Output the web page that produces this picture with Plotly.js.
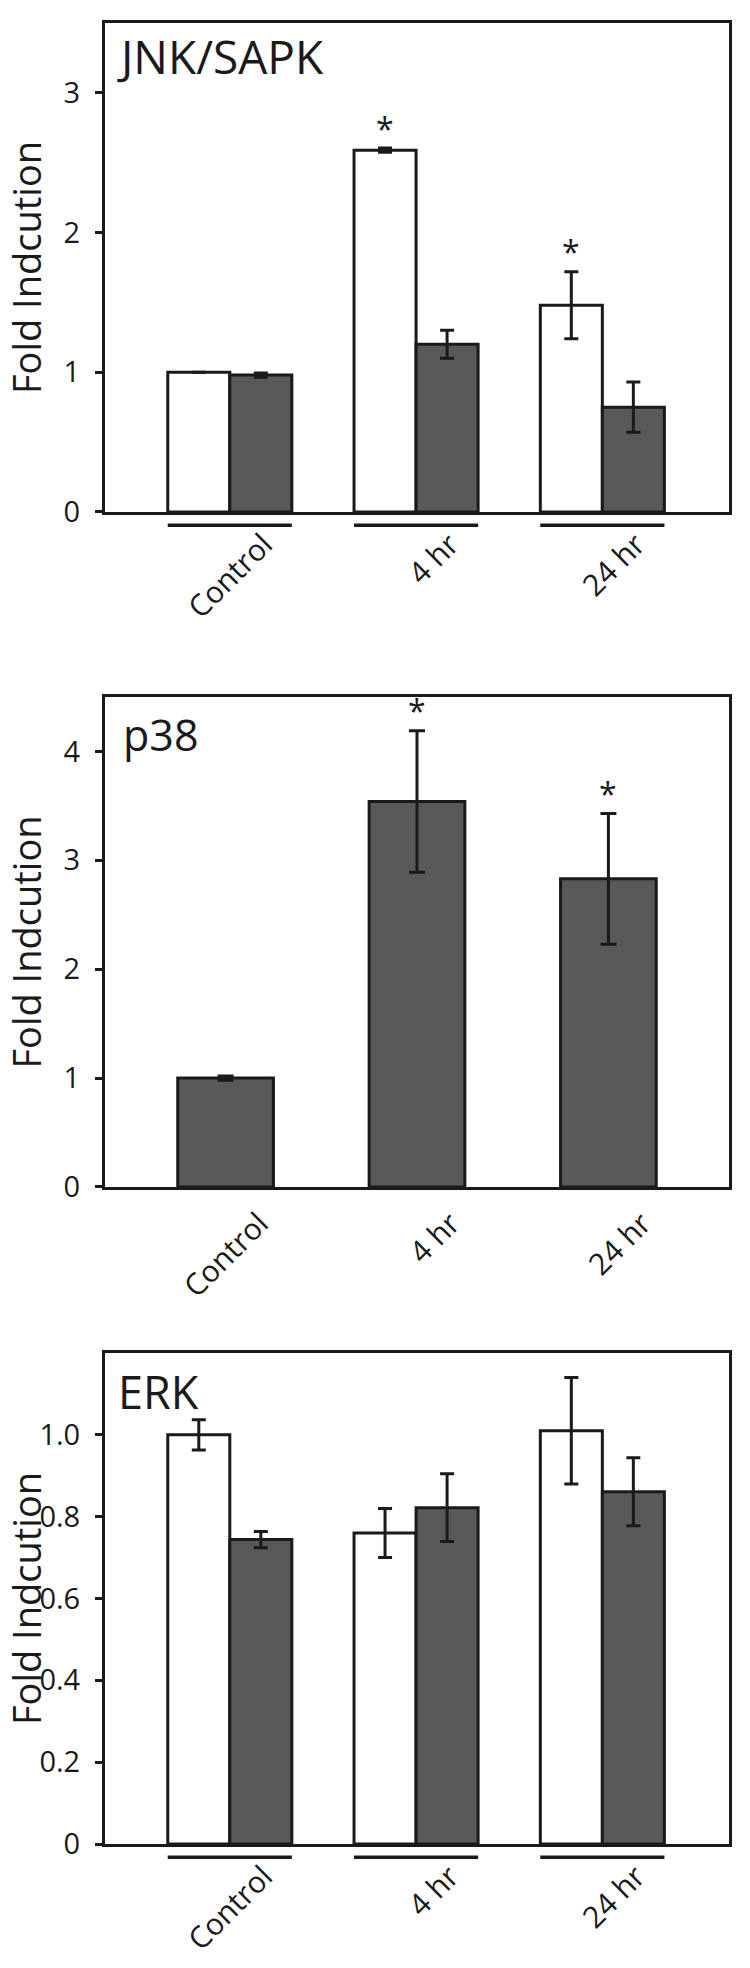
<!DOCTYPE html>
<html>
<head>
<meta charset="utf-8">
<script src="https://cdn.plot.ly/plotly-3.0.1.min.js"></script>
<style>
  html, body { margin: 0; padding: 0; background: #fff; }
  #chart { width: 750px; height: 1968px; }
</style>
</head>
<body>
<div id="chart"></div>
<script>
// categories and values
var categories = ['Control', '4 hr', '24 hr'];

var jnkWhite = [1.00, 2.59, 1.48];
var jnkWhiteErr = [0.00, 0.015, 0.24];
var jnkGrey = [0.98, 1.20, 0.75];
var jnkGreyErr = [0.015, 0.10, 0.18];
var jnkSig = [false, true, true];

var p38Grey = [1.00, 3.54, 2.83];
var p38GreyErr = [0.02, 0.65, 0.60];
var p38Sig = [false, true, true];

var erkWhite = [1.00, 0.76, 1.01];
var erkWhiteErr = [0.037, 0.06, 0.13];
var erkGrey = [0.744, 0.822, 0.861];
var erkGreyErr = [0.02, 0.083, 0.083];

var erkTickVals = [0, 0.2, 0.4, 0.6, 0.8, 1.0];
var erkTickText = ['0', '0.2', '0.4', '0.6', '0.8', '1.0'];

var INK = '#1a1a1a';
var GREY = '#595959';

function barTrace(y, err, fill, xa, ya, capw) {
    return {
        type: 'bar',
        x: categories,
        y: y,
        xaxis: xa,
        yaxis: ya,
        marker: { color: fill, line: { color: INK, width: 3 } },
        error_y: { type: 'data', array: err, visible: true, color: INK, thickness: 3, width: capw },
        hoverinfo: 'skip'
    };
}

var p38Trace = barTrace(p38Grey, p38GreyErr, GREY, 'x2', 'y2', 8);
p38Trace.width = 0.5;

var data = [
    barTrace(jnkWhite, jnkWhiteErr, '#ffffff', 'x', 'y', 7),
    barTrace(jnkGrey, jnkGreyErr, GREY, 'x', 'y', 7),
    p38Trace,
    barTrace(erkWhite, erkWhiteErr, '#ffffff', 'x3', 'y3', 7),
    barTrace(erkGrey, erkGreyErr, GREY, 'x3', 'y3', 7)
];

// common axis styling
function xAxis(anchor, range, standoff) {
    return {
        anchor: anchor,
        domain: [0.14, 0.972],
        range: range,
        showline: true, mirror: true, linewidth: 3, linecolor: INK,
        ticks: '', showgrid: false, zeroline: false,
        tickangle: -45,
        tickfont: { size: 30, color: INK },
        ticklabelshift: 34,
        ticklabelstandoff: standoff,
        fixedrange: true
    };
}
function yAxis(anchor, domain, range) {
    return {
        anchor: anchor,
        domain: domain,
        range: range,
        showline: true, mirror: true, linewidth: 3, linecolor: INK,
        ticks: 'outside', ticklen: 7, tickwidth: 3, tickcolor: INK,
        ticklabelstandoff: 9,
        showgrid: false, zeroline: false,
        tickfont: { size: 29, color: INK },
        title: { text: 'Fold Indcution', font: { size: 38, color: INK }, standoff: 16 },
        fixedrange: true
    };
}

var ya1 = yAxis('x', [0.73984, 0.98831], [0, 3.5]);
ya1.dtick = 1;
var ya2 = yAxis('x2', [0.39685, 0.64583], [0, 4.5]);
ya2.dtick = 1;
var ya3 = yAxis('x3', [0.06301, 0.3125], [0, 1.2]);
ya3.tickvals = erkTickVals;
ya3.ticktext = erkTickText;

var annotations = [];
var shapes = [];

function panelLabel(text, xa, ya, size, xshift, yshift) {
    annotations.push({
        text: text, xref: xa + ' domain', yref: ya + ' domain',
        x: 0, y: 1, xanchor: 'left', yanchor: 'middle',
        xshift: xshift, yshift: yshift, showarrow: false,
        font: { size: size, color: INK }
    });
}
panelLabel('JNK/SAPK', 'x', 'y', 46, 10, -33);
panelLabel('p38', 'x2', 'y2', 43, 16, -37);
panelLabel('ERK', 'x3', 'y3', 45, 11, -38);

function stars(vals, errs, sig, xa, ya, dx) {
    for (var i = 0; i < categories.length; i++) {
        if (!sig[i]) continue;
        annotations.push({
            text: '*', xref: xa, yref: ya,
            x: i + dx, y: vals[i] + errs[i],
            xanchor: 'center', yanchor: 'middle', yshift: 20,
            showarrow: false, font: { size: 32, color: INK }
        });
    }
}
stars(jnkWhite, jnkWhiteErr, jnkSig, 'x', 'y', -1 / 6);
stars(p38Grey, p38GreyErr, p38Sig, 'x2', 'y2', 0);

// group underlines under the paired bars
function underlines(xa, ya) {
    for (var i = 0; i < categories.length; i++) {
        shapes.push({
            type: 'line', xref: xa, yref: ya + ' domain',
            x0: i - 1 / 3, x1: i + 1 / 3, y0: -0.027, y1: -0.027,
            line: { color: INK, width: 3.5 }
        });
    }
}
underlines('x', 'y');
underlines('x3', 'y3');

var layout = {
    width: 750,
    height: 1968,
    margin: { l: 0, r: 0, t: 0, b: 0 },
    paper_bgcolor: '#ffffff',
    plot_bgcolor: '#ffffff',
    font: { family: '"Open Sans", "Noto Sans", sans-serif', color: INK },
    showlegend: false,
    barmode: 'group',
    bargap: 0.334,
    bargroupgap: 0,
    xaxis: xAxis('y', [-0.67, 2.68], 0),
    yaxis: ya1,
    xaxis2: xAxis('y2', [-0.63, 2.63], 4),
    yaxis2: ya2,
    xaxis3: xAxis('y3', [-0.67, 2.68], 0),
    yaxis3: ya3,
    annotations: annotations,
    shapes: shapes
};

Plotly.newPlot('chart', data, layout, { staticPlot: true, displayModeBar: false });
</script>
</body>
</html>
